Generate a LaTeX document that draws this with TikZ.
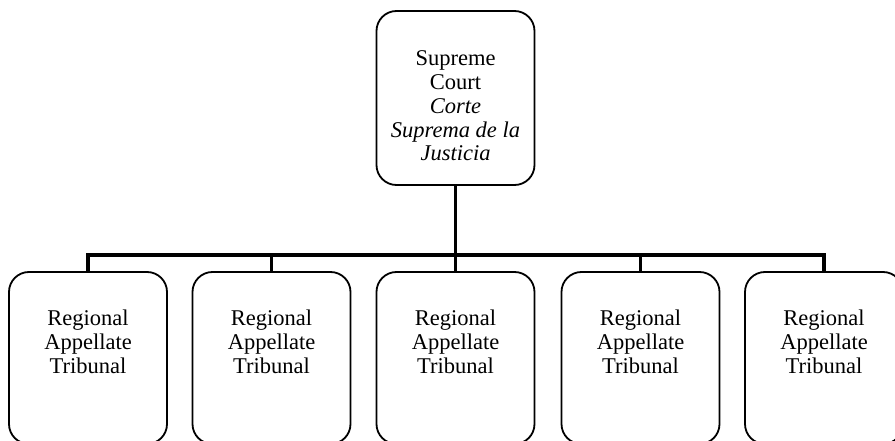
\documentclass[tikz,border=0pt]{standalone}
\usepackage{fontspec}
\setmainfont{Liberation Serif}
\begin{document}
\begin{tikzpicture}[x=1pt,y=-1pt,
  box/.style={draw=black,line width=1.8pt,rounded corners=20pt,minimum width=158pt,inner sep=0pt},
  lbl/.style={align=center,font=\fontsize{22.5}{23.8}\selectfont,inner sep=0pt},
  conn/.style={draw=black,line width=3.6pt}]
\useasboundingbox (0,0) rectangle (895,441);
\clip (0,0) rectangle (895,441);
% top box
\node[box,minimum height=174pt] (top) at (455.5,98) {};
\node[lbl] (toplbl) at (455.5,106) {Supreme\\Court\\\textit{Corte}\\\textit{Suprema de la}\\\textit{Justicia}};
% child boxes
\foreach \i/\x in {1/88,2/271.5,3/455.5,4/640.5,5/824}{
  \node[box,minimum height=172pt] (c\i) at (\x,358) {};
  \node[lbl] (l\i) at (\x,342) {Regional\\Appellate\\Tribunal};
}
\coordinate (bar) at (455.5,255);
\draw[conn] (top.south) -- (top.south |- bar);
\draw[conn] (c1.north) -- (c1.north |- bar) -- (c5.north |- bar) -- (c5.north);
\foreach \i in {2,3,4}{
  \draw[conn] (c\i.north |- bar) -- (c\i.north);
}
\end{tikzpicture}
\end{document}
